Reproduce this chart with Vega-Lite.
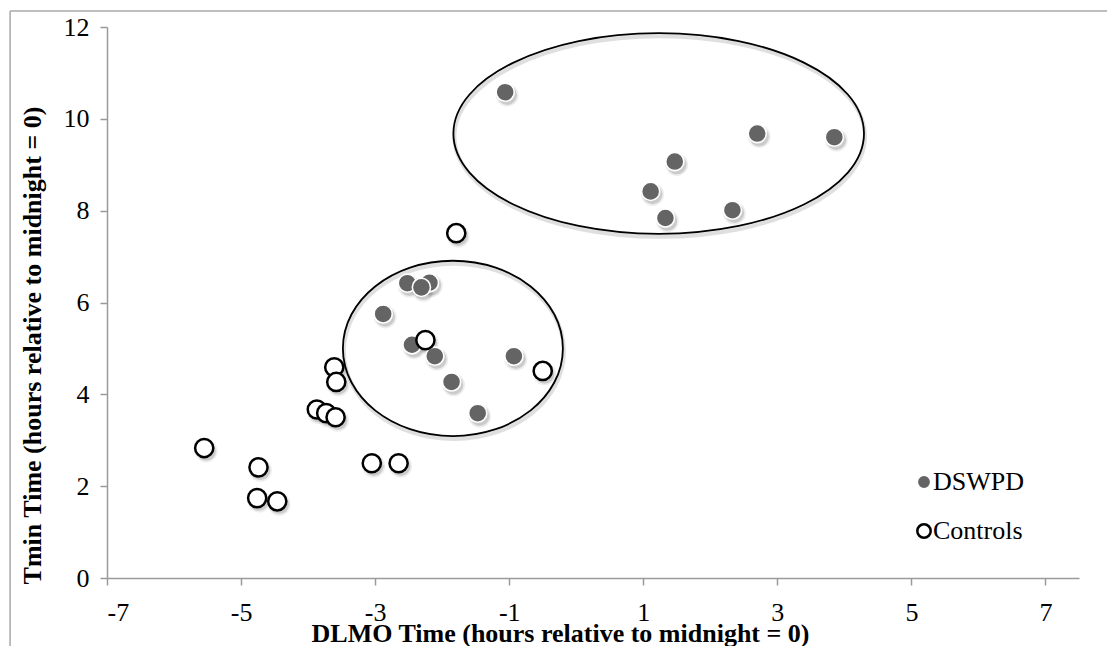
{
  "$schema": "https://vega.github.io/schema/vega-lite/v6.json",
  "width": 972,
  "height": 551,
  "autosize": "none",
  "padding": {"left": 107, "top": 27, "right": 28, "bottom": 68},
  "background": "#ffffff",
  "config": {
    "view": {"stroke": null},
    "font": "Liberation Serif",
    "axis": {
      "grid": false,
      "domainColor": "#9a9a9a",
      "domainWidth": 1.5,
      "tickColor": "#9a9a9a",
      "tickWidth": 1.5,
      "tickSize": 7,
      "labelFont": "Liberation Serif",
      "labelFontSize": 26,
      "labelColor": "#000000",
      "titleFont": "Liberation Serif",
      "titleFontSize": 26,
      "titleFontWeight": "bold",
      "titleColor": "#000000"
    },
    "legend": {
      "orient": "none",
      "legendX": 804,
      "legendY": 442,
      "padding": 0,
      "labelFont": "Liberation Serif",
      "labelFontSize": 26,
      "labelColor": "#000000",
      "labelOffset": -4,
      "symbolSize": 180,
      "symbolStrokeWidth": 2,
      "symbolType": "circle",
      "rowPadding": 23
    }
  },
  "datasets": {
    "subjects": [
      {"group": "DSWPD", "dlmo": -2.52, "tmin": 6.42},
      {"group": "DSWPD", "dlmo": -2.19, "tmin": 6.43},
      {"group": "DSWPD", "dlmo": -2.31, "tmin": 6.33},
      {"group": "DSWPD", "dlmo": -2.88, "tmin": 5.75},
      {"group": "DSWPD", "dlmo": -2.45, "tmin": 5.08},
      {"group": "DSWPD", "dlmo": -2.11, "tmin": 4.83},
      {"group": "DSWPD", "dlmo": -0.93, "tmin": 4.83},
      {"group": "DSWPD", "dlmo": -1.86, "tmin": 4.27},
      {"group": "DSWPD", "dlmo": -1.47, "tmin": 3.59},
      {"group": "DSWPD", "dlmo": -1.06, "tmin": 10.58},
      {"group": "DSWPD", "dlmo": 2.70, "tmin": 9.68},
      {"group": "DSWPD", "dlmo": 3.85, "tmin": 9.60},
      {"group": "DSWPD", "dlmo": 1.47, "tmin": 9.07},
      {"group": "DSWPD", "dlmo": 1.11, "tmin": 8.42},
      {"group": "DSWPD", "dlmo": 1.33, "tmin": 7.84},
      {"group": "DSWPD", "dlmo": 2.33, "tmin": 8.01},
      {"group": "Controls", "dlmo": -5.55, "tmin": 2.83},
      {"group": "Controls", "dlmo": -4.74, "tmin": 2.41},
      {"group": "Controls", "dlmo": -4.76, "tmin": 1.74},
      {"group": "Controls", "dlmo": -4.46, "tmin": 1.67},
      {"group": "Controls", "dlmo": -3.61, "tmin": 4.59},
      {"group": "Controls", "dlmo": -3.58, "tmin": 4.27},
      {"group": "Controls", "dlmo": -3.87, "tmin": 3.67},
      {"group": "Controls", "dlmo": -3.73, "tmin": 3.59},
      {"group": "Controls", "dlmo": -3.59, "tmin": 3.50},
      {"group": "Controls", "dlmo": -3.05, "tmin": 2.50},
      {"group": "Controls", "dlmo": -2.65, "tmin": 2.50},
      {"group": "Controls", "dlmo": -1.79, "tmin": 7.51},
      {"group": "Controls", "dlmo": -2.25, "tmin": 5.18},
      {"group": "Controls", "dlmo": -0.50, "tmin": 4.51}
    ]
  },
  "layer": [
    {
      "description": "outer chart frame, left edge",
      "data": {"values": [{}]},
      "mark": {"type": "rule", "color": "#a8a8a8", "strokeWidth": 1.5, "clip": false},
      "encoding": {
        "x": {"datum": -8.446, "type": "quantitative", "scale": {"domain": [-7, 7.5], "nice": false}},
        "y": {"datum": 12.35, "type": "quantitative", "scale": {"domain": [0, 12], "nice": false}},
        "y2": {"datum": -1.6}
      }
    },
    {
      "description": "outer chart frame, top edge",
      "data": {"values": [{}]},
      "mark": {"type": "rule", "color": "#a8a8a8", "strokeWidth": 1.5, "clip": false},
      "encoding": {
        "x": {"datum": -8.446, "type": "quantitative"},
        "x2": {"datum": 8.0},
        "y": {"datum": 12.35, "type": "quantitative"}
      }
    },
    {
      "description": "ellipse around the later DSWPD cluster, soft shadow",
      "data": {"values": [{"cx": 1.23, "cy": 9.68}]},
      "mark": {
        "type": "point",
        "shape": "M-1,0C-1,-0.2698,-0.5523,-0.4886,0,-0.4886C0.5523,-0.4886,1,-0.2698,1,0C1,0.2698,0.5523,0.4886,0,0.4886C-0.5523,0.4886,-1,0.2698,-1,0Z",
        "size": 168600,
        "filled": false,
        "stroke": "#000000",
        "strokeWidth": 4,
        "opacity": 0.12,
        "xOffset": 1,
        "yOffset": 3
      },
      "encoding": {
        "x": {"field": "cx", "type": "quantitative"},
        "y": {"field": "cy", "type": "quantitative"}
      }
    },
    {
      "description": "ellipse around the later DSWPD cluster",
      "data": {"values": [{"cx": 1.23, "cy": 9.68}]},
      "mark": {
        "type": "point",
        "shape": "M-1,0C-1,-0.2698,-0.5523,-0.4886,0,-0.4886C0.5523,-0.4886,1,-0.2698,1,0C1,0.2698,0.5523,0.4886,0,0.4886C-0.5523,0.4886,-1,0.2698,-1,0Z",
        "size": 168600,
        "filled": false,
        "stroke": "#000000",
        "strokeWidth": 1.8,
        "opacity": 1
      },
      "encoding": {
        "x": {"field": "cx", "type": "quantitative"},
        "y": {"field": "cy", "type": "quantitative"}
      }
    },
    {
      "description": "ellipse around the mixed cluster, soft shadow",
      "data": {"values": [{"cx": -1.84, "cy": 5.0}]},
      "mark": {
        "type": "point",
        "shape": "M-1,0C-1,-0.4402,-0.5523,-0.797,0,-0.797C0.5523,-0.797,1,-0.4402,1,0C1,0.4402,0.5523,0.797,0,0.797C-0.5523,0.797,-1,0.4402,-1,0Z",
        "size": 48400,
        "filled": false,
        "stroke": "#000000",
        "strokeWidth": 4,
        "opacity": 0.12,
        "xOffset": 1,
        "yOffset": 3
      },
      "encoding": {
        "x": {"field": "cx", "type": "quantitative"},
        "y": {"field": "cy", "type": "quantitative"}
      }
    },
    {
      "description": "ellipse around the mixed cluster",
      "data": {"values": [{"cx": -1.84, "cy": 5.0}]},
      "mark": {
        "type": "point",
        "shape": "M-1,0C-1,-0.4402,-0.5523,-0.797,0,-0.797C0.5523,-0.797,1,-0.4402,1,0C1,0.4402,0.5523,0.797,0,0.797C-0.5523,0.797,-1,0.4402,-1,0Z",
        "size": 48400,
        "filled": false,
        "stroke": "#000000",
        "strokeWidth": 1.8,
        "opacity": 1
      },
      "encoding": {
        "x": {"field": "cx", "type": "quantitative"},
        "y": {"field": "cy", "type": "quantitative"}
      }
    },
    {
      "description": "drop shadow under each marker (outer, faint)",
      "data": {"name": "subjects"},
      "mark": {"type": "point", "shape": "circle", "filled": true, "fill": "#000000", "strokeWidth": 0, "size": 520, "opacity": 0.07, "xOffset": 2, "yOffset": 3},
      "encoding": {
        "x": {"field": "dlmo", "type": "quantitative"},
        "y": {"field": "tmin", "type": "quantitative"}
      }
    },
    {
      "description": "drop shadow under each marker (inner)",
      "data": {"name": "subjects"},
      "mark": {"type": "point", "shape": "circle", "filled": true, "fill": "#000000", "strokeWidth": 0, "size": 380, "opacity": 0.14, "xOffset": 2, "yOffset": 3},
      "encoding": {
        "x": {"field": "dlmo", "type": "quantitative"},
        "y": {"field": "tmin", "type": "quantitative"}
      }
    },
    {
      "description": "subjects: DSWPD filled grey, controls open",
      "data": {"name": "subjects"},
      "mark": {"type": "point", "shape": "circle", "filled": true, "size": 330, "opacity": 1},
      "encoding": {
        "x": {
          "field": "dlmo",
          "type": "quantitative",
          "axis": {
            "values": [-7, -5, -3, -1, 1, 3, 5, 7],
            "labelExpr": "datum.value + ''",
            "labelPadding": 14,
            "title": "DLMO Time (hours relative to midnight = 0)",
            "titleX": 453,
            "titleY": 55,
            "titleAlign": "center",
            "titleBaseline": "middle"
          }
        },
        "y": {
          "field": "tmin",
          "type": "quantitative",
          "axis": {
            "values": [0, 2, 4, 6, 8, 10, 12],
            "labelExpr": "datum.value + ''",
            "labelPadding": 11,
            "title": "Tmin Time (hours relative to midnight = 0)",
            "titleAngle": -90,
            "titleX": -75,
            "titleY": 318,
            "titleAlign": "center",
            "titleBaseline": "middle"
          }
        },
        "fill": {
          "field": "group",
          "type": "nominal",
          "scale": {"domain": ["DSWPD", "Controls"], "range": ["#646464", "#ffffff"]},
          "legend": {"title": null, "labelFont": "Liberation Serif", "labelFontSize": 26}
        },
        "stroke": {
          "field": "group",
          "type": "nominal",
          "scale": {"domain": ["DSWPD", "Controls"], "range": ["#ffffff", "#000000"]},
          "legend": {"title": null, "labelFont": "Liberation Serif", "labelFontSize": 26}
        },
        "strokeWidth": {
          "field": "group",
          "type": "nominal",
          "scale": {"domain": ["DSWPD", "Controls"], "range": [1.6, 2.5]},
          "legend": null
        }
      }
    }
  ]
}
